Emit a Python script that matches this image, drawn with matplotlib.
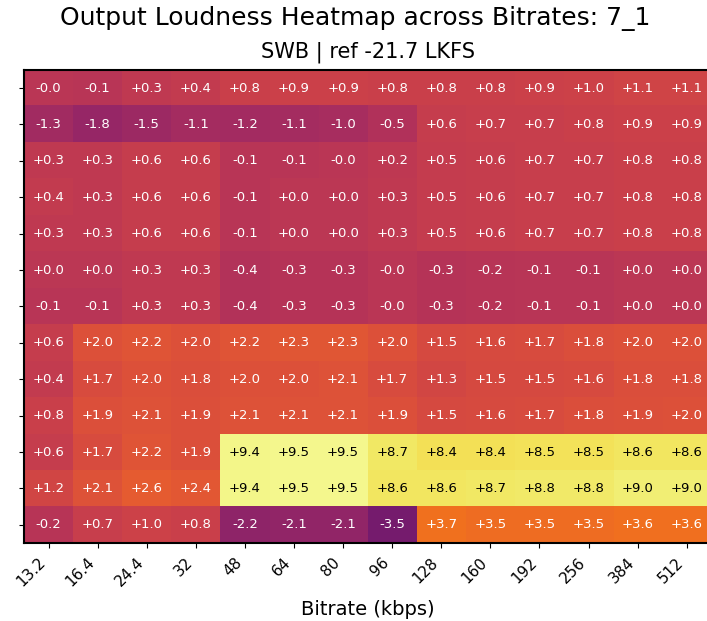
import numpy as np
import matplotlib
matplotlib.use('Agg')
from matplotlib import pyplot as plt

bitrates = ['13.2', '16.4', '24.4', '32', '48', '64', '80', '96',
            '128', '160', '192', '256', '384', '512']

# loudness deviation per row (dB)
row01 = [-0.01, -0.1, 0.3, 0.4, 0.8, 0.9, 0.9, 0.8, 0.8, 0.8, 0.9, 1.0, 1.1, 1.1]
row02 = [-1.3, -1.8, -1.5, -1.1, -1.2, -1.1, -1.0, -0.5, 0.6, 0.7, 0.7, 0.8, 0.9, 0.9]
row03 = [0.3, 0.3, 0.6, 0.6, -0.1, -0.1, -0.01, 0.2, 0.5, 0.6, 0.7, 0.7, 0.8, 0.8]
row04 = [0.4, 0.3, 0.6, 0.6, -0.1, 0.01, 0.01, 0.3, 0.5, 0.6, 0.7, 0.7, 0.8, 0.8]
row05 = [0.3, 0.3, 0.6, 0.6, -0.1, 0.01, 0.01, 0.3, 0.5, 0.6, 0.7, 0.7, 0.8, 0.8]
row06 = [0.01, 0.01, 0.3, 0.3, -0.4, -0.3, -0.3, -0.01, -0.3, -0.2, -0.1, -0.1, 0.01, 0.01]
row07 = [-0.1, -0.1, 0.3, 0.3, -0.4, -0.3, -0.3, -0.01, -0.3, -0.2, -0.1, -0.1, 0.01, 0.01]
row08 = [0.6, 2.0, 2.2, 2.0, 2.2, 2.3, 2.3, 2.0, 1.5, 1.6, 1.7, 1.8, 2.0, 2.0]
row09 = [0.4, 1.7, 2.0, 1.8, 2.0, 2.0, 2.1, 1.7, 1.3, 1.5, 1.5, 1.6, 1.8, 1.8]
row10 = [0.8, 1.9, 2.1, 1.9, 2.1, 2.1, 2.1, 1.9, 1.5, 1.6, 1.7, 1.8, 1.9, 2.0]
row11 = [0.6, 1.7, 2.2, 1.9, 9.4, 9.5, 9.5, 8.7, 8.4, 8.4, 8.5, 8.5, 8.6, 8.6]
row12 = [1.2, 2.1, 2.6, 2.4, 9.4, 9.5, 9.5, 8.6, 8.6, 8.7, 8.8, 8.8, 9.0, 9.0]
row13 = [-0.2, 0.7, 1.0, 0.8, -2.2, -2.1, -2.1, -3.5, 3.7, 3.5, 3.5, 3.5, 3.6, 3.6]

data = np.array([row01, row02, row03, row04, row05, row06, row07,
                 row08, row09, row10, row11, row12, row13])

vlim = np.ceil(np.abs(data).max())

fig = plt.figure(figsize=(7.07, 6.21), dpi=100)
ax = fig.add_axes([0.034, 0.1256, 0.972, 0.762])
ax.imshow(data, cmap='inferno', vmin=-vlim, vmax=vlim, aspect='auto',
          interpolation='nearest')

for i in range(data.shape[0]):
    for j in range(data.shape[1]):
        v = data[i, j]
        col = 'black' if v > 6 else 'white'
        ax.text(j, i, '{:+.1f}'.format(v), ha='center', va='center',
                color=col, fontsize=9.5)

ax.set_xticks(range(len(bitrates)))
ax.set_xticklabels(bitrates, rotation=45, ha='right', fontsize=11)
ax.tick_params(axis='x', pad=5)
ax.set_yticks(range(data.shape[0]))
ax.set_yticklabels([])
ax.set_xlabel('Bitrate (kbps)', fontsize=14, labelpad=8)
for s in ax.spines.values():
    s.set_linewidth(1.5)

fig.suptitle('Output Loudness Heatmap across Bitrates: 7_1', fontsize=18,
             x=0.502, y=0.99)
ax.set_title('SWB | ref -21.7 LKFS', fontsize=15, pad=9)

fig.savefig('out.png', dpi=100)
